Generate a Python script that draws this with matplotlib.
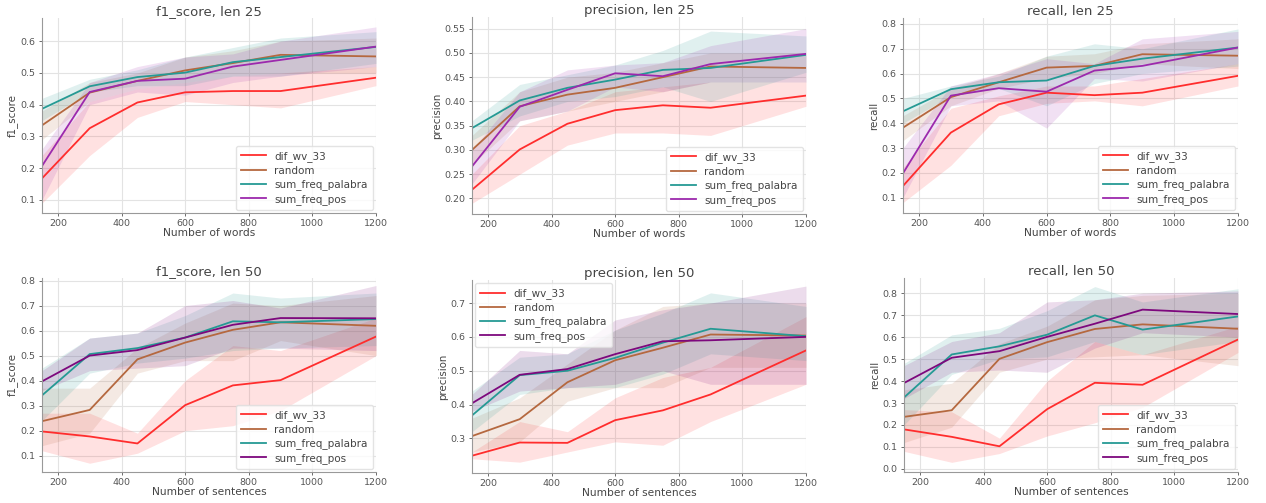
import matplotlib
matplotlib.use("Agg")
import matplotlib.pyplot as plt
import numpy as np

# sample sizes (x axis)
sizes = [150, 300, 450, 600, 750, 900, 1200]
methods = ['dif_wv_33', 'random', 'sum_freq_palabra', 'sum_freq_pos']

# ---- len 25 (Number of words) ----
f1_25_mean = {
    'dif_wv_33':        [0.168, 0.326, 0.407, 0.439, 0.443, 0.443, 0.485],
    'random':           [0.335, 0.438, 0.475, 0.508, 0.531, 0.557, 0.552],
    'sum_freq_palabra': [0.387, 0.458, 0.487, 0.501, 0.534, 0.550, 0.582],
    'sum_freq_pos':     [0.207, 0.440, 0.475, 0.482, 0.520, 0.541, 0.583],
}
f1_25_lo = {
    'dif_wv_33':        [0.09, 0.24, 0.36, 0.41, 0.40, 0.39, 0.46],
    'random':           [0.29, 0.41, 0.45, 0.47, 0.49, 0.50, 0.50],
    'sum_freq_palabra': [0.35, 0.44, 0.46, 0.46, 0.49, 0.49, 0.53],
    'sum_freq_pos':     [0.10, 0.40, 0.44, 0.43, 0.47, 0.49, 0.52],
}
f1_25_hi = {
    'dif_wv_33':        [0.24, 0.41, 0.45, 0.47, 0.49, 0.50, 0.52],
    'random':           [0.38, 0.47, 0.50, 0.55, 0.57, 0.60, 0.61],
    'sum_freq_palabra': [0.42, 0.48, 0.51, 0.55, 0.58, 0.61, 0.63],
    'sum_freq_pos':     [0.26, 0.47, 0.52, 0.55, 0.56, 0.60, 0.645],
}

prec_25_mean = {
    'dif_wv_33':        [0.218, 0.301, 0.354, 0.382, 0.392, 0.387, 0.412],
    'random':           [0.300, 0.390, 0.414, 0.428, 0.450, 0.472, 0.469],
    'sum_freq_palabra': [0.345, 0.402, 0.428, 0.445, 0.465, 0.469, 0.496],
    'sum_freq_pos':     [0.266, 0.389, 0.424, 0.458, 0.452, 0.477, 0.498],
}
prec_25_lo = {
    'dif_wv_33':        [0.19, 0.25, 0.31, 0.335, 0.335, 0.33, 0.39],
    'random':           [0.27, 0.36, 0.38, 0.40, 0.42, 0.44, 0.44],
    'sum_freq_palabra': [0.32, 0.37, 0.40, 0.41, 0.43, 0.40, 0.46],
    'sum_freq_pos':     [0.23, 0.36, 0.38, 0.43, 0.42, 0.44, 0.44],
}
prec_25_hi = {
    'dif_wv_33':        [0.25, 0.35, 0.38, 0.42, 0.43, 0.44, 0.44],
    'random':           [0.33, 0.42, 0.45, 0.46, 0.48, 0.50, 0.50],
    'sum_freq_palabra': [0.36, 0.435, 0.455, 0.475, 0.505, 0.545, 0.535],
    'sum_freq_pos':     [0.30, 0.42, 0.465, 0.475, 0.48, 0.515, 0.55],
}

rec_25_mean = {
    'dif_wv_33':        [0.147, 0.362, 0.476, 0.523, 0.513, 0.523, 0.591],
    'random':           [0.382, 0.505, 0.565, 0.624, 0.631, 0.678, 0.672],
    'sum_freq_palabra': [0.448, 0.537, 0.565, 0.572, 0.631, 0.660, 0.705],
    'sum_freq_pos':     [0.198, 0.511, 0.541, 0.527, 0.612, 0.631, 0.705],
}
rec_25_lo = {
    'dif_wv_33':        [0.08, 0.23, 0.43, 0.48, 0.49, 0.47, 0.55],
    'random':           [0.33, 0.47, 0.54, 0.58, 0.60, 0.64, 0.62],
    'sum_freq_palabra': [0.40, 0.51, 0.54, 0.47, 0.56, 0.60, 0.63],
    'sum_freq_pos':     [0.10, 0.47, 0.49, 0.38, 0.58, 0.57, 0.64],
}
rec_25_hi = {
    'dif_wv_33':        [0.22, 0.46, 0.51, 0.55, 0.55, 0.58, 0.64],
    'random':           [0.43, 0.54, 0.60, 0.67, 0.68, 0.72, 0.74],
    'sum_freq_palabra': [0.50, 0.55, 0.59, 0.67, 0.72, 0.70, 0.78],
    'sum_freq_pos':     [0.30, 0.55, 0.60, 0.66, 0.64, 0.74, 0.77],
}

# ---- len 50 (Number of sentences) ----
f1_50_mean = {
    'dif_wv_33':        [0.197, 0.177, 0.149, 0.302, 0.381, 0.402, 0.576],
    'random':           [0.238, 0.283, 0.485, 0.552, 0.603, 0.633, 0.619],
    'sum_freq_palabra': [0.341, 0.506, 0.530, 0.572, 0.637, 0.633, 0.646],
    'sum_freq_pos':     [0.397, 0.500, 0.522, 0.572, 0.623, 0.650, 0.649],
}
f1_50_lo = {
    'dif_wv_33':        [0.12, 0.07, 0.11, 0.20, 0.22, 0.28, 0.50],
    'random':           [0.14, 0.19, 0.43, 0.48, 0.48, 0.56, 0.50],
    'sum_freq_palabra': [0.24, 0.43, 0.47, 0.49, 0.52, 0.53, 0.54],
    'sum_freq_pos':     [0.36, 0.44, 0.45, 0.46, 0.53, 0.53, 0.52],
}
f1_50_hi = {
    'dif_wv_33':        [0.27, 0.27, 0.19, 0.40, 0.54, 0.52, 0.65],
    'random':           [0.37, 0.37, 0.53, 0.63, 0.71, 0.70, 0.74],
    'sum_freq_palabra': [0.45, 0.57, 0.59, 0.66, 0.75, 0.73, 0.75],
    'sum_freq_pos':     [0.44, 0.57, 0.59, 0.70, 0.72, 0.69, 0.78],
}

prec_50_mean = {
    'dif_wv_33':        [0.249, 0.288, 0.287, 0.354, 0.383, 0.430, 0.560],
    'random':           [0.307, 0.357, 0.466, 0.531, 0.568, 0.607, 0.604],
    'sum_freq_palabra': [0.368, 0.487, 0.500, 0.538, 0.583, 0.624, 0.602],
    'sum_freq_pos':     [0.404, 0.488, 0.505, 0.549, 0.587, 0.590, 0.600],
}
prec_50_lo = {
    'dif_wv_33':        [0.24, 0.23, 0.26, 0.29, 0.28, 0.35, 0.46],
    'random':           [0.26, 0.29, 0.41, 0.45, 0.45, 0.51, 0.51],
    'sum_freq_palabra': [0.32, 0.43, 0.45, 0.45, 0.49, 0.55, 0.53],
    'sum_freq_pos':     [0.38, 0.44, 0.45, 0.46, 0.50, 0.46, 0.46],
}
prec_50_hi = {
    'dif_wv_33':        [0.26, 0.35, 0.32, 0.42, 0.48, 0.51, 0.66],
    'random':           [0.36, 0.42, 0.52, 0.62, 0.69, 0.70, 0.70],
    'sum_freq_palabra': [0.44, 0.54, 0.55, 0.62, 0.67, 0.73, 0.69],
    'sum_freq_pos':     [0.43, 0.56, 0.55, 0.65, 0.68, 0.70, 0.75],
}

rec_50_mean = {
    'dif_wv_33':        [0.180, 0.146, 0.103, 0.272, 0.392, 0.383, 0.589],
    'random':           [0.237, 0.267, 0.501, 0.577, 0.637, 0.658, 0.638],
    'sum_freq_palabra': [0.325, 0.521, 0.558, 0.611, 0.699, 0.634, 0.694],
    'sum_freq_pos':     [0.391, 0.506, 0.536, 0.601, 0.661, 0.725, 0.705],
}
rec_50_lo = {
    'dif_wv_33':        [0.08, 0.03, 0.07, 0.15, 0.21, 0.28, 0.53],
    'random':           [0.12, 0.19, 0.44, 0.50, 0.51, 0.52, 0.47],
    'sum_freq_palabra': [0.20, 0.43, 0.50, 0.51, 0.58, 0.52, 0.58],
    'sum_freq_pos':     [0.32, 0.44, 0.45, 0.44, 0.55, 0.62, 0.60],
}
rec_50_hi = {
    'dif_wv_33':        [0.27, 0.26, 0.14, 0.40, 0.58, 0.52, 0.65],
    'random':           [0.36, 0.39, 0.57, 0.65, 0.77, 0.79, 0.80],
    'sum_freq_palabra': [0.48, 0.61, 0.64, 0.72, 0.83, 0.76, 0.82],
    'sum_freq_pos':     [0.47, 0.58, 0.62, 0.76, 0.77, 0.80, 0.81],
}

#colors
colors_top = {'dif_wv_33': '#ff2d2d', 'random': '#b5683f',
              'sum_freq_palabra': '#259a94', 'sum_freq_pos': '#9c29ad'}
colors_bot = dict(colors_top)
colors_bot['sum_freq_pos'] = '#7d087d'

txt_col = '#444444'

#panel setup: (mean, lo, hi, title, ylabel, xlabel, ylim, yticks, fmt, legend loc, pixel box, colors)
panels = [
    (f1_25_mean, f1_25_lo, f1_25_hi, 'f1_score, len 25', 'f1_score', 'Number of words',
     (0.059, 0.673), np.arange(0.1, 0.61, 0.1), '%.1f', 'lower right', (42, 18, 376, 213), colors_top),
    (prec_25_mean, prec_25_lo, prec_25_hi, 'precision, len 25', 'precision', 'Number of words',
     (0.168, 0.574), np.arange(0.20, 0.551, 0.05), '%.2f', 'lower right', (472, 17, 806, 214), colors_top),
    (rec_25_mean, rec_25_lo, rec_25_hi, 'recall, len 25', 'recall', 'Number of words',
     (0.038, 0.824), np.arange(0.1, 0.81, 0.1), '%.1f', 'lower right', (903, 18, 1238, 213), colors_top),
    (f1_50_mean, f1_50_lo, f1_50_hi, 'f1_score, len 50', 'f1_score', 'Number of sentences',
     (0.035, 0.81), np.arange(0.1, 0.81, 0.1), '%.1f', 'lower right', (42, 278, 376, 472), colors_bot),
    (prec_50_mean, prec_50_lo, prec_50_hi, 'precision, len 50', 'precision', 'Number of sentences',
     (0.198, 0.768), np.arange(0.3, 0.71, 0.1), '%.1f', 'upper left', (472, 280, 806, 473), colors_bot),
    (rec_50_mean, rec_50_lo, rec_50_hi, 'recall, len 50', 'recall', 'Number of sentences',
     (-0.014, 0.869), np.arange(0.0, 0.81, 0.1), '%.1f', 'lower right', (904, 278, 1238, 472), colors_bot),
]

W, H = 1266, 503
fig = plt.figure(figsize=(W / 100, H / 100), dpi=100)
fig.set_facecolor('white')

for mean, lo, hi, title, ylab, xlab, ylim, yt, yfmt, loc, box, cols in panels:
    x0, y0, x1, y1 = box
    ax = fig.add_axes([x0 / W, 1 - y1 / H, (x1 - x0) / W, (y1 - y0) / H])

    for m in methods:
        ax.fill_between(sizes, lo[m], hi[m], color=cols[m], alpha=0.14, linewidth=0)
        ax.plot(sizes, mean[m], color=cols[m], linewidth=1.3, label=m)

    ax.set_xlim(150, 1200)
    ax.set_ylim(*ylim)
    ax.set_xticks([200, 400, 600, 800, 1000, 1200])
    ax.set_yticks(yt)
    ax.set_yticklabels([yfmt % v for v in yt])
    ax.tick_params(labelsize=6.8, colors='#555555', length=2.5, width=0.6, pad=2)

    ax.grid(color='#e3e3e3', linewidth=0.8)
    ax.set_axisbelow(True)

    #removing borders seaborn style
    ax.spines['top'].set_visible(False)
    ax.spines['right'].set_visible(False)
    ax.spines['left'].set_color('#999999')
    ax.spines['bottom'].set_color('#999999')

    ax.set_title(title, fontsize=9.5, color=txt_col, pad=2)
    ax.set_xlabel(xlab, fontsize=7.7, color=txt_col, labelpad=0)
    ax.set_ylabel(ylab, fontsize=7.4, color=txt_col, labelpad=2)

    leg = ax.legend(loc=loc, fontsize=7.5, frameon=True, handlelength=2.4, labelspacing=0.35,
                    borderpad=0.5, borderaxespad=0.3, fancybox=True)
    leg.get_frame().set_edgecolor('#dddddd')
    for t in leg.get_texts():
        t.set_color(txt_col)

plt.savefig('out.png', dpi=100)
